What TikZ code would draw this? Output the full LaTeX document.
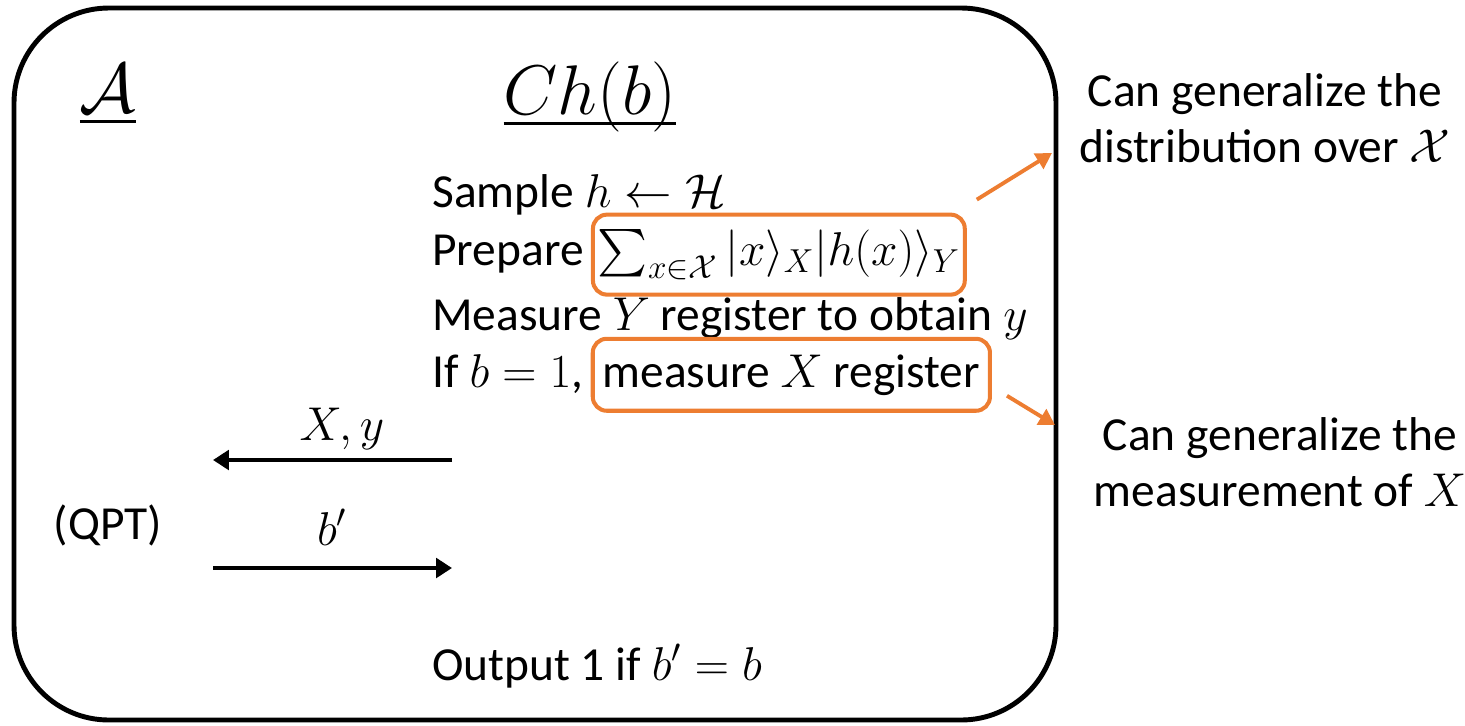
\RequirePackage{fix-cm}
\documentclass[tikz,border=0pt]{standalone}
\usepackage{fontspec}
\setmainfont{Carlito}
\usepackage{amsmath}
\usepackage{amssymb}
\usetikzlibrary{arrows.meta,positioning}
\definecolor{offorange}{HTML}{ED7D31}

\begin{document}
\begin{tikzpicture}[x=0.02cm, y=-0.02cm,
  txt/.style={inner sep=0pt, font=\fontsize{27}{32}\selectfont},
  title/.style={inner sep=0pt, font=\fontsize{40}{46}\selectfont},
  obox/.style={draw=offorange, line width=2.3pt, rounded corners=8pt, font=\fontsize{27}{32}\selectfont},
  msg/.style={line width=2.6pt, -{Triangle[length=9pt,width=11pt]}},
  hint/.style={draw=offorange, line width=2.2pt, -{Triangle[length=9pt,width=10pt]}}]

  \useasboundingbox (0,0) rectangle (1465,725);
  \draw[line width=2.8pt, rounded corners=54pt] (14,8) rectangle (1056,720);

  % titles
  \node[title, anchor=base] (adv) at (108,112) {$\underline{\mathcal{A}}$};
  \node[title, anchor=base] (chal) at (590,114) {$\underline{\smash{Ch(b)}}$};

  % challenger steps
  \node[txt, anchor=base west] (samp) at (432,207) {Sample $h \leftarrow \mathcal{H}$};
  \node[txt, anchor=base west] (prep) at (432,265) {Prepare};
  \node[obox, anchor=base west, inner xsep=0.1cm, minimum height=1.6cm] (sumbox)
    at ([xshift=4]prep.base east) {$\sum_{x\in\mathcal{X}}|x\rangle_X|h(x)\rangle_Y$};
  \node[txt, anchor=base west] (meas) at (432,330) {Measure $Y$ register to obtain $y$};
  \node[txt, anchor=base west] (cond) at (432,387) {If $b=1$,};
  \node[obox, anchor=base west, inner xsep=0.2cm, minimum height=1.44cm] (regbox)
    at ([xshift=4]cond.base east) {measure $X$ register};
  \node[txt, anchor=base west] (out) at (432,680) {Output 1 if $b'=b$};

  % remarks
  \node[txt, align=center] (gen1) at (1265,118) {Can generalize the\\distribution over $\mathcal{X}$};
  \node[txt, align=center] (gen2) at (1280,462) {Can generalize the\\measurement of $X$};
  \coordinate (hint1) at (1052,153);
  \coordinate (hint2) at (1055,425);
  \draw[hint] ([shift={(10,-13)}]sumbox.north east) -- (hint1);
  \draw[hint] ([shift={(15,21)}]regbox.east) -- (hint2);

  % messages
  \node[txt] (qpt) at (108,525) {(QPT)};
  \node[txt, anchor=base] (xy) at (342,440) {$X,y$};
  \node[txt, anchor=base] (bp) at (332,545) {$b'$};
  \coordinate (chxy) at (452,460);
  \coordinate (advxy) at (213,460);
  \coordinate (advb) at (213,568);
  \coordinate (chb) at (452,568);
  \draw[msg] (chxy) -- (advxy);
  \draw[msg] (advb) -- (chb);
\end{tikzpicture}
\end{document}
